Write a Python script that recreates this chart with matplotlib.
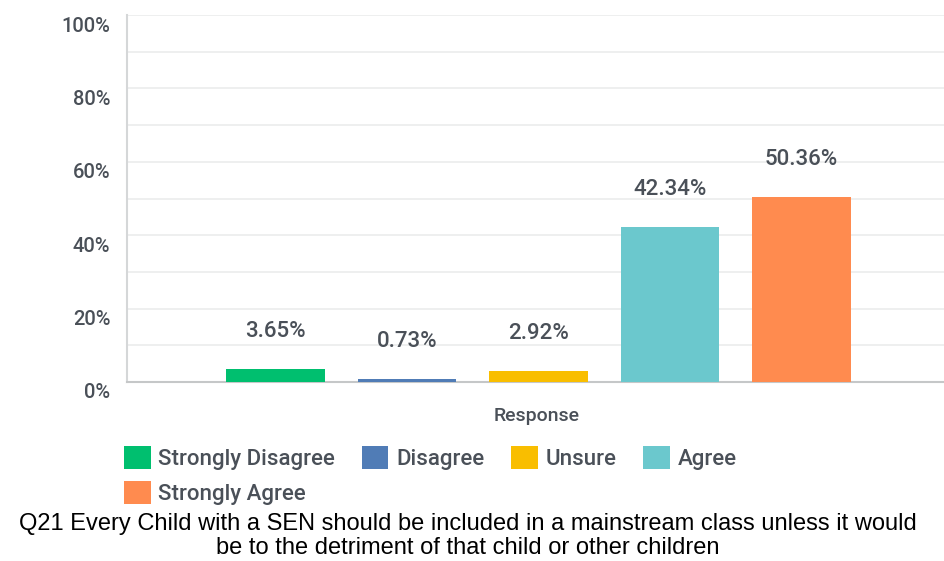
import matplotlib
matplotlib.use("Agg")
import matplotlib.pyplot as plt
from matplotlib.patches import Patch
from matplotlib.transforms import offset_copy

categories = ["Strongly Disagree", "Disagree", "Unsure", "Agree", "Strongly Agree"]
values = [3.65, 0.73, 2.92, 42.34, 50.36]
colors = ["#00BF6F", "#507CB6", "#F9BE00", "#6BC8CD", "#FF8B4F"]
yticks = [0, 20, 40, 60, 80, 100]
caption = ("Q21 Every Child with a SEN should be included in a mainstream class unless it would\n"
           "be to the detriment of that child or other children")

TEXT = "#4A5058"
plt.rcParams['font.family'] = ['Roboto', 'DejaVu Sans']

fig = plt.figure(figsize=(9.45, 5.61), dpi=100)
ax = fig.add_axes([127 / 945, 1 - 382 / 561, 1 - 127 / 945, 367 / 561])

x = list(range(len(categories)))
ax.bar(x, values, width=0.75, color=colors, zorder=3)
ax.set_xlim(-1.13, 5.09)
ax.set_ylim(0, 100)

for i, v in zip(x, values):
    ax.annotate(f"{v:.2f}%", (i, v), xytext=(0, 27), textcoords="offset points",
                ha="center", va="center", fontsize=16, fontweight="medium", color=TEXT)

# grid every 10%
for g in range(10, 101, 10):
    ax.axhline(g, color="#EDEEEE", lw=1.3, zorder=1)

ax.set_yticks(yticks)
ax.set_yticklabels([f"{t}%" for t in yticks])
ax.tick_params(axis="y", length=0, pad=12, labelsize=14.5, labelcolor=TEXT)
for lbl in ax.get_yticklabels():
    lbl.set_fontweight("medium")
    lbl.set_transform(offset_copy(lbl.get_transform(), fig=fig, x=0, y=-9, units="dots"))
ax.set_xticks([])

for s in ["top", "right"]:
    ax.spines[s].set_visible(False)
ax.spines["left"].set_color("#D5D7D8")
ax.spines["left"].set_linewidth(1.5)
ax.spines["bottom"].set_color("#C5C7C8")
ax.spines["bottom"].set_linewidth(1.5)

fig.text(537 / 945, 1 - 416 / 561, "Response", ha="center", va="center",
         fontsize=14, fontweight="medium", color=TEXT)

# legend filled column-wise, so reorder to get row-wise layout
order = [0, 4, 1, 2, 3]
handles = [Patch(facecolor=colors[k], edgecolor="none") for k in order]
labels = [categories[k] for k in order]
leg = fig.legend(handles, labels, loc="upper left", bbox_to_anchor=(115 / 945, 1 - 437 / 561),
                 ncol=4, frameon=False, fontsize=16, labelcolor=TEXT,
                 handlelength=1.2, handleheight=1.2, handletextpad=0.35,
                 columnspacing=1.2, labelspacing=0.5, borderaxespad=0)
for t in leg.get_texts():
    t.set_fontweight("medium")

fig.text(468 / 945, 1 - 536 / 561, caption, ha="center", va="center",
         fontsize=17, family=["Liberation Sans", "DejaVu Sans"], color="black",
         linespacing=1.1)

fig.savefig("out.png", dpi=100)
